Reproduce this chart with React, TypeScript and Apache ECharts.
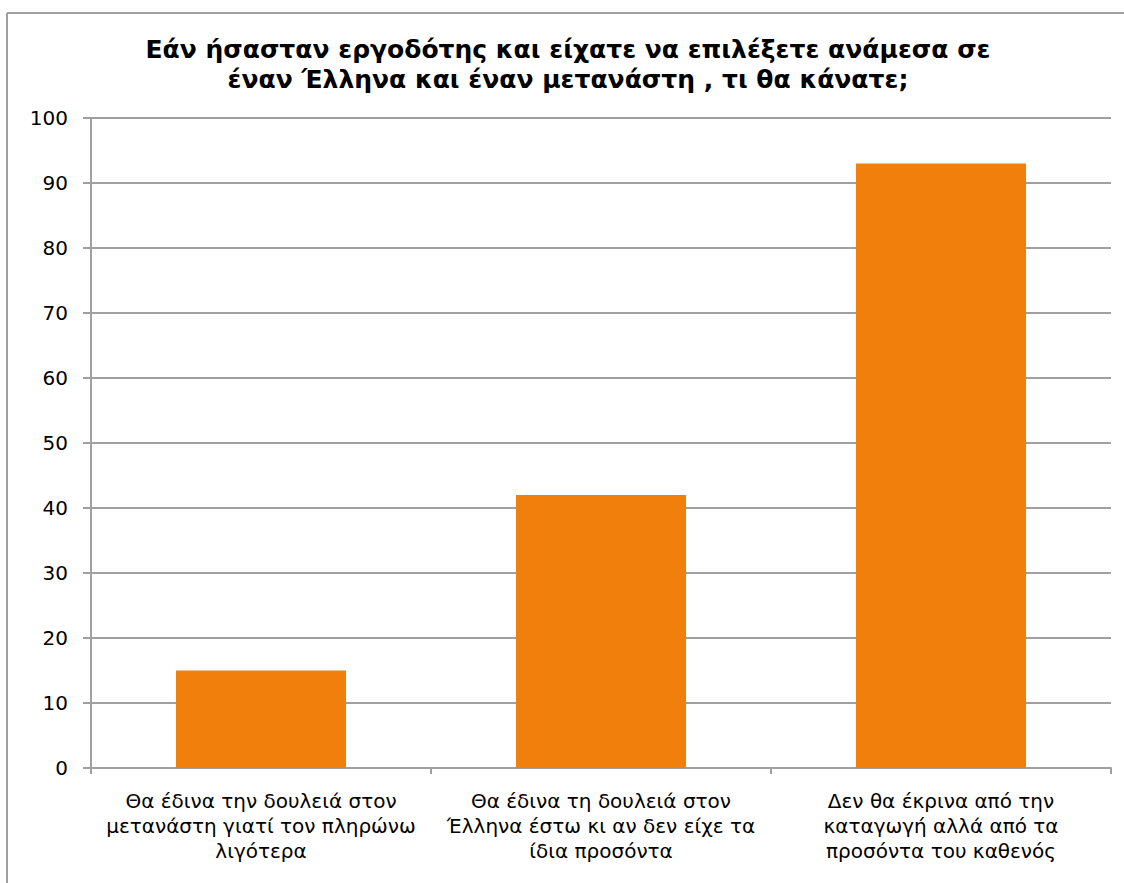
import React, { useEffect, useRef } from "react";
import * as echarts from "echarts";

const titleLines = [
  "Εάν ήσασταν εργοδότης και είχατε να επιλέξετε ανάμεσα σε",
  "έναν Έλληνα και έναν μετανάστη , τι θα κάνατε;",
];
const categories = [
  "Θα έδινα την δουλειά στον\nμετανάστη γιατί τον πληρώνω\nλιγότερα",
  "Θα έδινα τη δουλειά στον\nΈλληνα έστω κι αν δεν είχε τα\nίδια προσόντα",
  "Δεν θα έκρινα από την\nκαταγωγή αλλά από τα\nπροσόντα του καθενός",
];
const values = [15, 42, 93];
const yMin = 0;
const yMax = 100;
const yStep = 10;

export default function App() {
  const ref = useRef<HTMLDivElement>(null);
  useEffect(() => {
    if (!ref.current) return;
    const chart = echarts.init(ref.current, undefined, { renderer: "svg" });
    const font = "Verdana, 'DejaVu Sans', sans-serif";
    chart.setOption({
      animation: false,
      backgroundColor: "#ffffff",
      title: {
        text: titleLines.join("\n"),
        left: 563,
        top: 29,
        textAlign: "center",
        textStyle: {
          fontFamily: font,
          fontSize: 25,
          fontWeight: "bold",
          color: "#000000",
          lineHeight: 30,
        },
      },
      graphic: [
        {
          type: "line",
          shape: { x1: 7, y1: 13, x2: 1124, y2: 13 },
          style: { stroke: "#a0a0a0", lineWidth: 2 },
          silent: true,
        },
        {
          type: "line",
          shape: { x1: 7, y1: 13, x2: 7, y2: 883 },
          style: { stroke: "#a0a0a0", lineWidth: 2 },
          silent: true,
        },
      ],
      grid: { left: 91, right: 13, top: 118, bottom: 115, containLabel: false },
      xAxis: {
        type: "category",
        data: categories,
        axisLine: { show: true, lineStyle: { color: "#a0a0a0", width: 2 } },
        axisTick: { show: true, length: 6, lineStyle: { color: "#a0a0a0", width: 2 } },
        axisLabel: {
          fontFamily: font,
          fontSize: 20,
          color: "#000000",
          lineHeight: 25,
          margin: 20,
          interval: 0,
          align: "center",
        },
      },
      yAxis: {
        type: "value",
        min: yMin,
        max: yMax,
        interval: yStep,
        axisLine: { show: true, lineStyle: { color: "#a0a0a0", width: 2 } },
        axisTick: { show: true, length: 8, lineStyle: { color: "#a0a0a0", width: 2 } },
        axisLabel: {
          fontFamily: font,
          fontSize: 20,
          color: "#000000",
          margin: 23,
        },
        splitLine: { show: true, lineStyle: { color: "#a0a0a0", width: 2 } },
      },
      series: [
        {
          type: "bar",
          data: values,
          barWidth: "50%",
          itemStyle: { color: "#F0800B" },
        },
      ],
    });
    return () => chart.dispose();
  }, []);
  return (
    <div
      ref={ref}
      style={{ position: "absolute", left: 0, top: 0, width: 1124, height: 883 }}
    />
  );
}
